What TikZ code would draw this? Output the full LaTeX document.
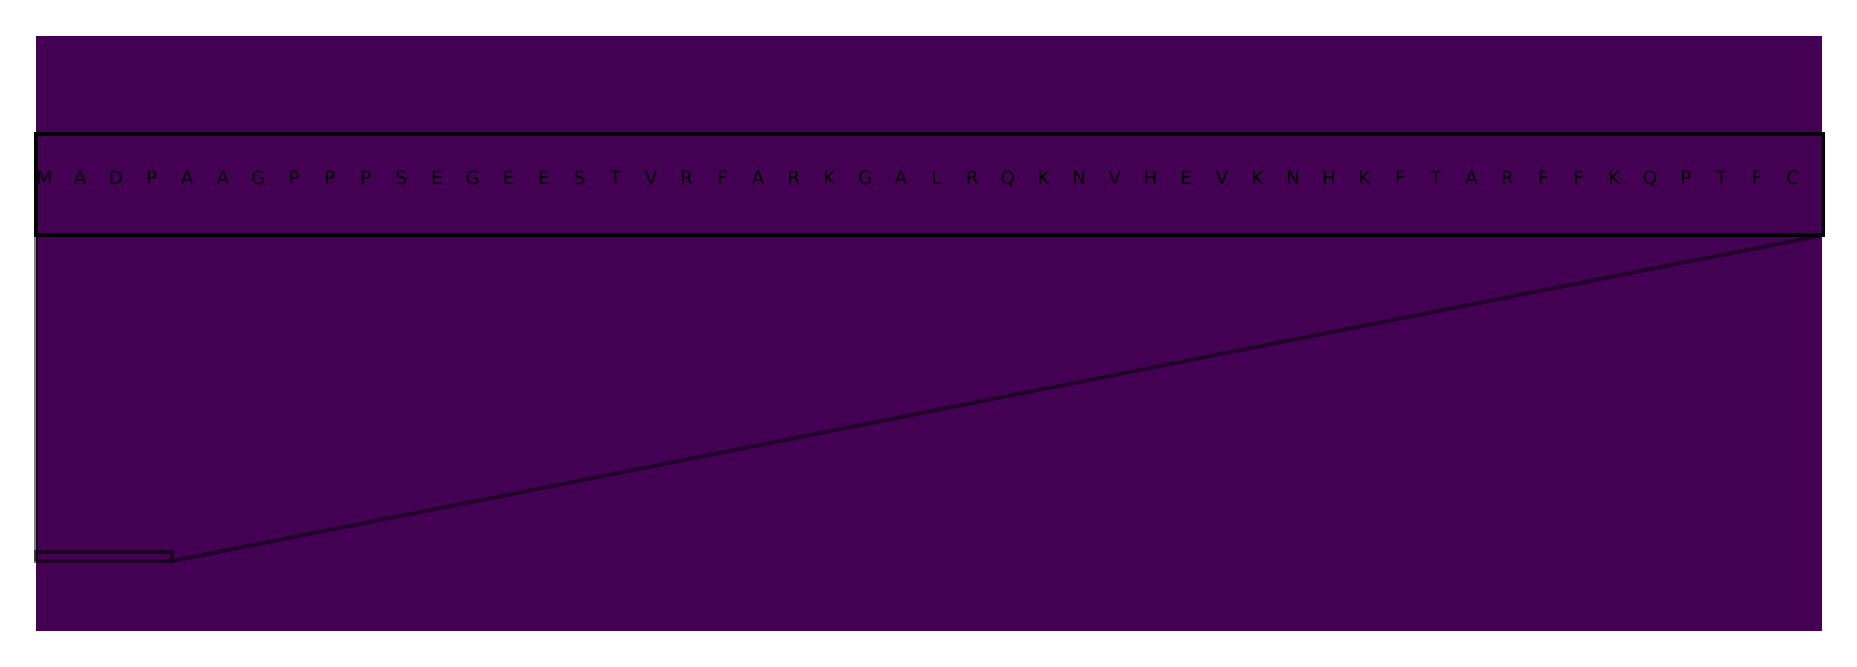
\documentclass[tikz,border=0pt]{standalone}
\usepackage{fontspec}
\setmainfont{DejaVu Sans}
\usepackage{xcolor}
\definecolor{viridisdark}{RGB}{68,1,84}

\begin{document}
\begin{tikzpicture}[
    x=0.01cm, y=-0.01cm,
    every node/.style={inner sep=0pt, outer sep=0pt},
    residue/.style={anchor=base, text=black, font=\fontsize{5.2pt}{6pt}\selectfont},
    seqframe/.style={draw=black, line width=1.2pt, rectangle},
    zoomframe/.style={draw=black, draw opacity=0.55, line width=1pt, rectangle},
    zoomline/.style={draw=black, draw opacity=0.5, line width=1.1pt}
]
\useasboundingbox (0,0) rectangle (1857,667);

% background panel
\fill[viridisdark] (36,36) rectangle (1822,631);

% sequence box
\node (seqbox) [seqframe, minimum width=1787*0.01cm, minimum height=101*0.01cm,
    anchor=north west] at (36,134) {};

% residues
\foreach \aa [count=\i from 0] in {M,A,D,P,A,A,G,P,P,P,S,E,G,E,E,S,T,V,R,F,
    A,R,K,G,A,L,R,Q,K,N,V,H,E,V,K,N,H,K,F,T,A,R,F,F,K,Q,P,T,F,C}
    \node (res\i) [residue] at (44.5+35.68*\i,185) {\aa};

% zoomed region
\node (zoombox) [zoomframe, minimum width=136*0.01cm, minimum height=9*0.01cm,
    anchor=south west] at (36,561) {};

\draw [zoomline] (seqbox.south west) -- (zoombox.south west);
\draw [zoomline] (seqbox.south east) -- (zoombox.south east);

\end{tikzpicture}
\end{document}
